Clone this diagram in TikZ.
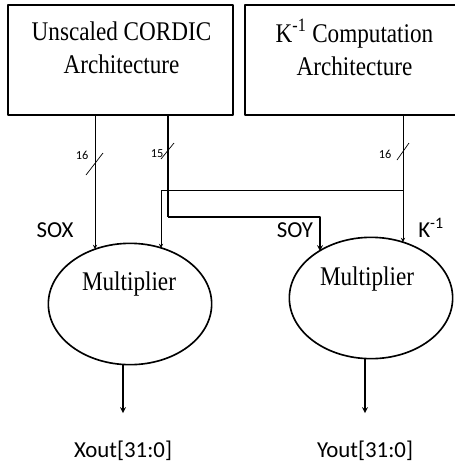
\documentclass[tikz,border=0pt]{standalone}
\usepackage{fontspec}
\usepackage{graphicx}
\setmainfont{Liberation Serif}
\newfontfamily\labelfont{Carlito}
\newcommand{\narrowtext}[1]{\scalebox{0.86}[1]{#1}}
\usetikzlibrary{shapes.geometric,calc}

\begin{document}
\begin{tikzpicture}[x=0.03cm, y=-0.03cm, >=stealth, line join=round]
    \tikzset{
        archbox/.style={draw, line width=2.4pt, minimum width=6.75cm, minimum height=3.3cm, inner sep=0pt},
        archtext/.style={align=center, inner sep=0pt, font=\fontsize{23}{28.5}\selectfont},
        mult/.style={draw, ellipse, line width=1.4pt, minimum width=4.9cm, minimum height=3.64cm},
        multtext/.style={inner sep=0pt, font=\fontsize{23}{26}\selectfont},
        sig/.style={inner sep=0pt, font=\labelfont\fontsize{19.5}{23}\selectfont},
        buswidth/.style={inner sep=0pt, font=\labelfont\fontsize{10.5}{12}\selectfont},
        thinwire/.style={line width=0.6pt},
        thickwire/.style={line width=2.4pt},
        outwire/.style={line width=1.2pt},
    }
    \useasboundingbox (0,0) rectangle (455,464);
    \clip (0,0) rectangle (455,464);

    % blocks
    \node[archbox] (cordic) at (120.5,60) {};
    \node[archtext] (cordictext) at ($(cordic.north)+(1,44)$) {\narrowtext{Unscaled CORDIC}\\\narrowtext{Architecture}};
    \node[archbox] (kinv) at (357.5,60) {};
    \node[archtext] (kinvtext) at ($(kinv.north)+(-3,44)$) {\narrowtext{K\textsuperscript{-1} Computation}\\\narrowtext{Architecture}};

    \node[mult] (mulx) at (130,304) {};
    \node[multtext] (mulxtext) at ($(mulx)+(-1,-20)$) {\narrowtext{Multiplier}};
    \node[mult] (muly) at (371,298) {};
    \node[multtext] (mulytext) at ($(muly)+(-4,-19)$) {\narrowtext{Multiplier}};

    % wire ends
    \coordinate (soxtop) at (95,115);
    \coordinate (soxin) at (95,249);
    \coordinate (soytop) at (168,115);
    \coordinate (soybend) at (168,217);
    \coordinate (soyright) at (320,217);
    \coordinate (soyin) at (320,251);
    \coordinate (ktop) at (403,115);
    \coordinate (ktap) at (403,190);
    \coordinate (kleft) at (161,190);
    \coordinate (kxin) at (161,248);
    \coordinate (kyin) at (403,242);
    \coordinate (xoutend) at (123,413);
    \coordinate (youtend) at (365,413);

    % connections
    \draw[thinwire, ->] (soxtop) -- (soxin);
    \draw[thickwire] (soytop) -- (soybend);
    \draw[outwire, ->] (soybend) -- (soyright) -- (soyin);
    \draw[thinwire, ->] (ktop) -- (kyin);
    \draw[thinwire, ->] (ktap) -- (kleft) -- (kxin);
    \draw[outwire, ->] ($(mulx.south)+(-7,0)$) -- (xoutend);
    \draw[outwire, ->] ($(muly.south)+(-6,0)$) -- (youtend);

    % bus widths
    \draw[thinwire] (86,175) -- (103,153);
    \node[buswidth] (wsox) at (82,155) {16};
    \draw[thinwire] (161,159) -- (174,143);
    \node[buswidth] (wsoy) at (157,154) {15};
    \draw[thinwire] (397,160) -- (409,143);
    \node[buswidth] (wk) at (385,154) {16};

    % signal names
    \node[sig] (soxlbl) at (55,230) {SOX};
    \node[sig] (soylbl) at (295,230) {SOY};
    \node[sig] (klbl) at (431,228) {K\textsuperscript{-1}};
    \node[sig] (xoutlbl) at (123,451) {Xout[31:0]};
    \node[sig] (youtlbl) at (365,451) {Yout[31:0]};
\end{tikzpicture}
\end{document}
